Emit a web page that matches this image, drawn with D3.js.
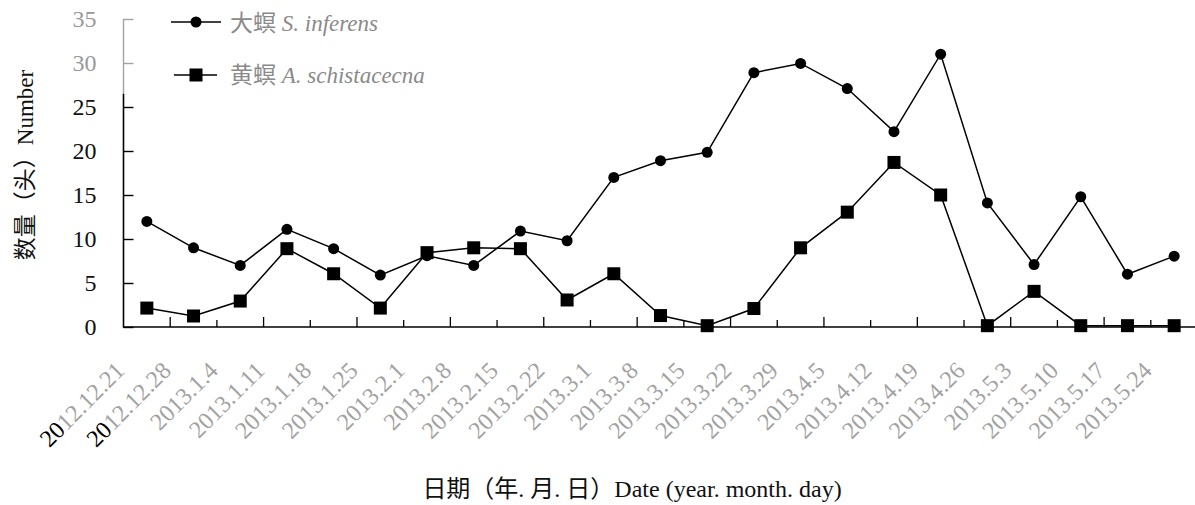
<!DOCTYPE html>
<html>
<head>
<meta charset="utf-8">
<script src="https://cdn.jsdelivr.net/npm/d3@7"></script>
<style>
  html, body { margin: 0; padding: 0; background: #fff; }
  svg { display: block; }
  text { font-family: "Liberation Serif", "Times New Roman", "Noto Sans CJK SC", serif; }
</style>
</head>
<body>
<svg id="chart" width="1195" height="505"></svg>
<script>
// Weekly counts of two stem borer species
const dates = ["2012.12.21", "2012.12.28", "2013.1.4", "2013.1.11", "2013.1.18", "2013.1.25",
  "2013.2.1", "2013.2.8", "2013.2.15", "2013.2.22", "2013.3.1", "2013.3.8", "2013.3.15",
  "2013.3.22", "2013.3.29", "2013.4.5", "2013.4.12", "2013.4.19", "2013.4.26", "2013.5.3",
  "2013.5.10", "2013.5.17", "2013.5.24"];
const sInferens = [12, 9, 7, 11.1, 8.9, 5.9, 8.1, 7, 10.9, 9.8, 17, 18.9, 19.85, 28.9, 29.95,
  27.1, 22.2, 31, 14.1, 7.1, 14.8, 6, 8.05];
const aSchistacecna = [2.15, 1.25, 2.95, 8.9, 6.05, 2.15, 8.45, 9, 8.9, 3.07, 6.05, 1.3, 0.15,
  2.1, 9, 13.05, 18.7, 15, 0.15, 4.05, 0.15, 0.15, 0.15];
const yTicks = [0, 5, 10, 15, 20, 25, 30, 35];

const svg = d3.select("#chart");
const plotLeft = 123.5, plotRight = 1197.5, plotTop = 19, plotBottom = 327;
const grey = "#a2a2a2";

const x = d3.scaleBand().domain(dates).range([plotLeft, plotRight]).paddingInner(0).paddingOuter(0);
const y = d3.scaleLinear().domain([0, 35]).range([plotBottom, plotTop]);
const cx = d => x(d) + x.bandwidth() / 2;

// y axis with inward ticks
const yAxis = svg.append("g").attr("transform", `translate(${plotLeft},0)`)
  .call(d3.axisLeft(y).tickValues(yTicks).tickSize(-10).tickPadding(27).tickSizeOuter(0));
yAxis.select(".domain").remove();
yAxis.selectAll(".tick line").attr("stroke", d => d >= 30 ? grey : "#000").attr("stroke-width", 1.4);
yAxis.selectAll(".tick text")
  .attr("font-size", 24).attr("fill", d => d >= 30 ? "#999" : "#111")
  .attr("text-anchor", "end").attr("dx", 0);
svg.append("line").attr("x1", plotLeft).attr("x2", plotLeft).attr("y1", y(35)).attr("y2", y(26.5))
  .attr("stroke", grey).attr("stroke-width", 1.4);
svg.append("line").attr("x1", plotLeft).attr("x2", plotLeft).attr("y1", y(26.5)).attr("y2", plotBottom + 0.7)
  .attr("stroke", "#000").attr("stroke-width", 1.6);

// x axis: baseline, inward ticks between categories, slanted labels
svg.append("line").attr("x1", plotLeft).attr("x2", 1195).attr("y1", plotBottom).attr("y2", plotBottom)
  .attr("stroke", "#000").attr("stroke-width", 1.6);
const xg = svg.append("g");
xg.selectAll("line.xt").data(dates.slice(1)).join("line")
  .attr("class", "xt")
  .attr("x1", d => x(d)).attr("x2", d => x(d))
  .attr("y1", plotBottom).attr("y2", (d, i) => plotBottom - (i % 2 === 0 ? 10 : 7))
  .attr("stroke", "#000").attr("stroke-width", 1.3);
const labels = xg.selectAll("text.xl").data(dates).join("text")
  .attr("class", "xl")
  .attr("font-size", 24)
  .attr("text-anchor", "end")
  .attr("fill", grey)
  .attr("transform", d => `translate(${cx(d) - 21},372) rotate(-45)`);
labels.each(function (d, i) {
  const t = d3.select(this);
  if (i < 2) {
    t.append("tspan").attr("fill", "#000").text(d.slice(0, 2));
    t.append("tspan").text(d.slice(2));
  } else {
    t.text(d);
  }
});

// axis titles
svg.append("text").attr("font-size", 23).attr("fill", "#111").attr("text-anchor", "middle")
  .attr("transform", "translate(33,165) rotate(-90)")
  .text("数量（头）Number");
svg.append("text").attr("font-size", 24).attr("fill", "#111").attr("text-anchor", "middle")
  .attr("x", 632).attr("y", 497)
  .text("日期（年. 月. 日）Date (year. month. day)");

// series lines and markers
const line = d3.line().x((d, i) => cx(dates[i])).y(d => y(d));
svg.append("path").datum(sInferens).attr("d", line)
  .attr("fill", "none").attr("stroke", "#000").attr("stroke-width", 1.5);
svg.append("path").datum(aSchistacecna).attr("d", line)
  .attr("fill", "none").attr("stroke", "#000").attr("stroke-width", 1.5);
svg.append("g").selectAll("circle").data(sInferens).join("circle")
  .attr("cx", (d, i) => cx(dates[i])).attr("cy", d => y(d)).attr("r", 5.5).attr("fill", "#000");
const sq = 13;
svg.append("g").selectAll("rect").data(aSchistacecna).join("rect")
  .attr("x", (d, i) => cx(dates[i]) - sq / 2).attr("y", d => y(d) - sq / 2)
  .attr("width", sq).attr("height", sq).attr("fill", "#000");

// legend
const legend = svg.append("g");
legend.append("line").attr("x1", 171).attr("x2", 221).attr("y1", 22).attr("y2", 22)
  .attr("stroke", "#000").attr("stroke-width", 1.5);
legend.append("circle").attr("cx", 196).attr("cy", 22).attr("r", 5.5).attr("fill", "#000");
legend.append("line").attr("x1", 174).attr("x2", 217).attr("y1", 75).attr("y2", 75)
  .attr("stroke", "#000").attr("stroke-width", 1.5);
legend.append("rect").attr("x", 196 - sq / 2).attr("y", 75 - sq / 2).attr("width", sq).attr("height", sq)
  .attr("fill", "#000");
const l1 = legend.append("text").attr("x", 230).attr("y", 31).attr("font-size", 23).attr("fill", "#8a8a8a");
l1.append("tspan").text("大螟 ");
l1.append("tspan").attr("font-style", "italic").text("S. inferens");
const l2 = legend.append("text").attr("x", 230).attr("y", 83).attr("font-size", 23).attr("fill", "#8a8a8a");
l2.append("tspan").text("黄螟 ");
l2.append("tspan").attr("font-style", "italic").text("A. schistacecna");
</script>
</body>
</html>
